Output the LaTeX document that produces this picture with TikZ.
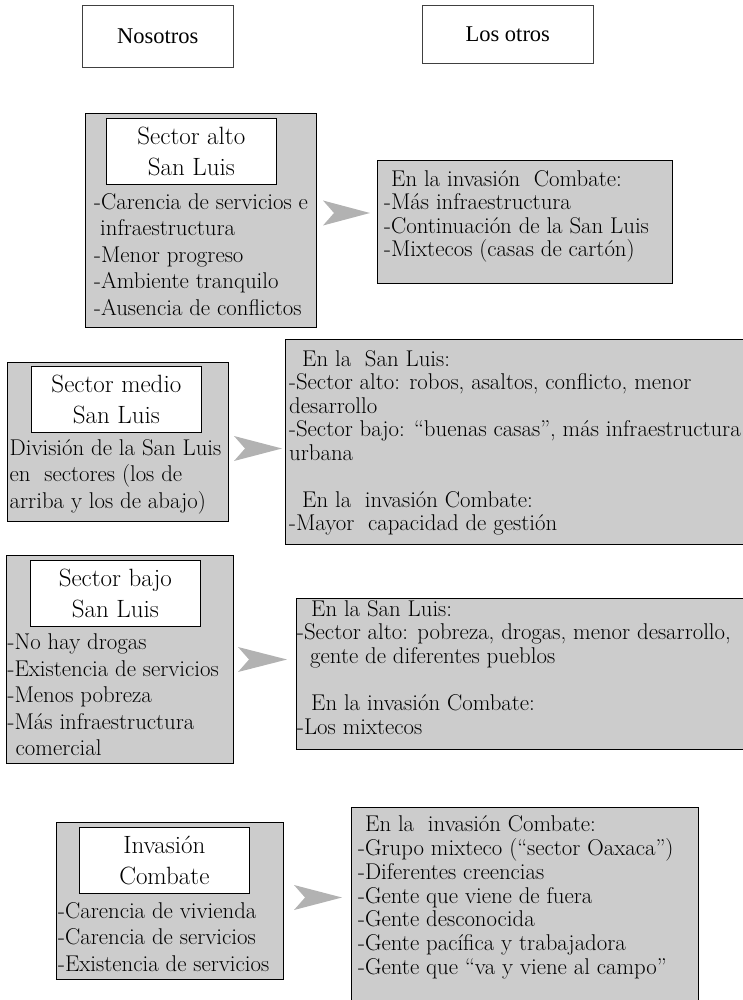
\documentclass[tikz,border=0pt]{standalone}
\usepackage{fontspec}
\newfontfamily\cabezafont{Liberation Serif}
\usepackage{tikz}
\usetikzlibrary{positioning,calc}
\definecolor{caja}{gray}{0.8}
\definecolor{punta}{gray}{0.7}
\tikzstyle{cabeza}=[draw=black!75, line width=0.6pt, anchor=north west,
  font=\cabezafont\fontsize{22.5}{26}\selectfont]
\tikzstyle{grupo}=[draw, fill=caja, line width=1pt, anchor=north west]
\tikzstyle{titulo}=[draw, fill=white, line width=0.7pt, align=center,
  minimum width=170pt, minimum height=66pt, anchor=north west,
  font=\fontsize{25}{31}\selectfont]
\tikzstyle{lista}=[align=left, inner sep=0pt, anchor=north west,
  font=\fontsize{22.8}{26.5}\selectfont]
\tikzstyle{otros}=[lista, font=\fontsize{22.8}{23.5}\selectfont]
\tikzstyle{flecha}=[fill=punta]
\newcommand{\titulo}[2]{node (t#1)[titulo]{#2}}
\newcommand{\lista}[2]{node (l#1)[lista]{#2}}
\newcommand{\sangria}[1]{\hspace*{#1pt}}
\newcommand{\flecha}[2]{\fill[flecha] ($(#1)+(0,-12.5)$) -- (#2)
  -- ($(#1)+(0,12.5)$) -- ($(#1)+(11,0)$) -- cycle;}

\begin{document}
\begin{tikzpicture}[x=1pt,y=-1pt]
  \useasboundingbox (0,0) rectangle (743,1000);

  % Encabezados
  \node[cabeza, minimum width=151pt, minimum height=62pt] (nos) at (82,5) {Nosotros};
  \node[cabeza, minimum width=171pt, minimum height=58pt] (otr) at (422,5) {Los otros};

  % Nosotros
  \path (85,113) node (g1)[grupo, minimum width=231pt, minimum height=214pt] {};
  \path (g1.north west)+(21,5) \titulo{1}{Sector alto\\San Luis};
  \path (t1.south west)+(-12,8.3) \lista{1}{-Carencia de servicios e\\\sangria{6}infraestructura\\-Menor progreso\\-Ambiente tranquilo\\-Ausencia de conflictos};

  \path (7,362) node (g2)[grupo, minimum width=221pt, minimum height=159pt] {};
  \path (g2.north west)+(24,4) \titulo{2}{Sector medio\\San Luis};
  \path (t2.south west)+(-21.5,6.2) \lista{2}{División de la San Luis\\en~ sectores (los de\\arriba y los de abajo)};

  \path (6,555) node (g3)[grupo, minimum width=227pt, minimum height=208pt] {};
  \path (g3.north west)+(24,5) \titulo{3}{Sector bajo\\San Luis};
  \path (t3.south west)+(-22.5,7.2) \lista{3}{-No hay drogas\\-Existencia de servicios\\-Menos pobreza\\-Más infraestructura\\\sangria{8}comercial};

  \path (56,822) node (g4)[grupo, minimum width=227pt, minimum height=157pt] {};
  \path (g4.north west)+(23,5) \titulo{4}{Invasión\\Combate};
  \path (t4.south west)+(-21,8.2) \lista{4}{-Carencia de vivienda\\-Carencia de servicios\\-Existencia de servicios};

  % Los otros
  \path (377,160) node (o1)[grupo, minimum width=295pt, minimum height=123pt] {};
  \path (o1.north west)+(7,10.2) node (x1)[otros] {\sangria{7}En la invasión~ Combate:\\-Más infraestructura\\-Continuación de la San Luis\\-Mixtecos (casas de cartón)};

  \path (285,339) node (o2)[grupo, minimum width=475pt, minimum height=205pt] {};
  \path (o2.north west)+(4,11.2) node (x2)[otros] {\sangria{13}En la~ San Luis:\\-Sector alto: robos, asaltos, conflicto, menor\\desarrollo\\-Sector bajo: “buenas casas”, más infraestructura\\urbana\\[23.5pt]\sangria{13}En la~ invasión Combate:\\-Mayor~ capacidad de gestión};

  \path (296,598) node (o3)[grupo, minimum width=464pt, minimum height=151pt] {};
  \path (o3.north west)+(1,2) node (x3)[otros] {\sangria{14}En la San Luis:\\-Sector alto: pobreza, drogas, menor desarrollo,\\\sangria{13}gente de diferentes pueblos\\[24pt]\sangria{14}En la invasión Combate:\\-Los mixtecos};

  \path (351,807) node (o4)[grupo, minimum width=347pt, minimum height=203pt] {};
  \path (o4.north west)+(7,8.2) node (x4)[otros, font=\fontsize{22.8}{23.9}\selectfont] {\sangria{7}En la~ invasión Combate:\\-Grupo mixteco (“sector Oaxaca”)\\-Diferentes creencias\\-Gente que viene de fuera\\-Gente desconocida\\-Gente pacífica y trabajadora\\-Gente que “va y viene al campo”};

  % Flechas
  \coordinate (f1) at ($(g1.east)+(6,-7.5)$);
  \coordinate (p1) at ($(o1.west |- f1)+(-7,0)$);
  \coordinate (f2) at ($(g2.east)+(5,6.5)$);
  \coordinate (p2) at ($(o2.west |- f2)+(-3,0)$);
  \coordinate (f3) at ($(g3.east)+(4,0)$);
  \coordinate (p3) at ($(o3.west |- f3)+(-9,0)$);
  \coordinate (f4) at ($(g4.east)+(10,-3.5)$);
  \coordinate (p4) at ($(o4.west |- f4)+(-9,0)$);
  \flecha{f1}{p1}
  \flecha{f2}{p2}
  \flecha{f3}{p3}
  \flecha{f4}{p4}

\end{tikzpicture}
\end{document}
